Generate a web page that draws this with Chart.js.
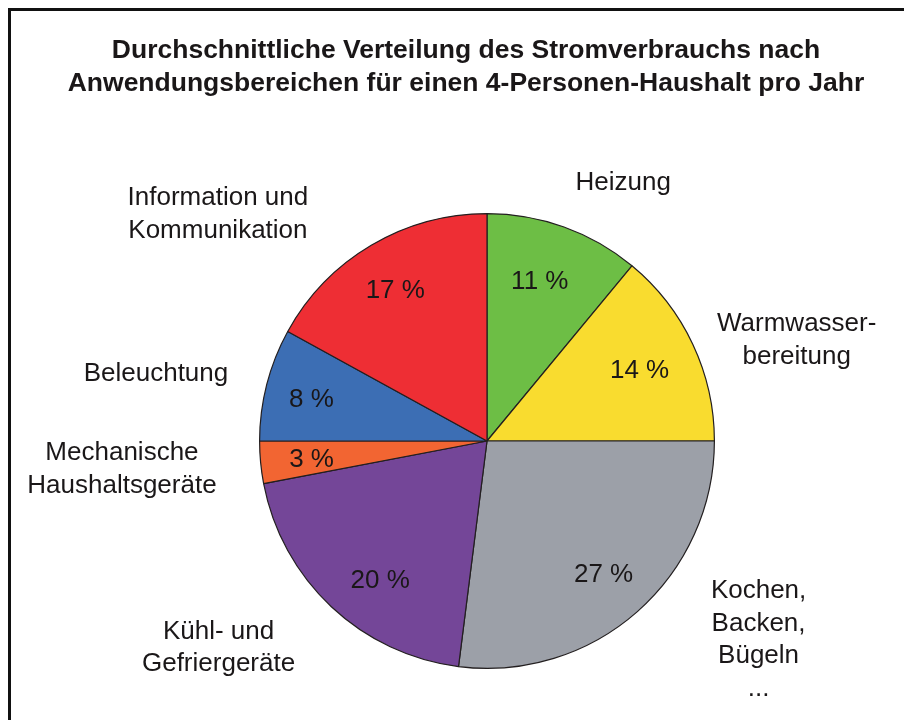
<!DOCTYPE html>
<html>
<head>
<meta charset="utf-8">
<title>Stromverbrauch 4-Personen-Haushalt</title>
<script src="https://cdn.jsdelivr.net/npm/chart.js@4.4.1/dist/chart.umd.min.js"></script>
<style>
  body { margin: 0; background: #fff; }
  #wrap { position: relative; width: 904px; height: 720px; overflow: hidden; }
  #frame { position: absolute; left: 8px; top: 8px; width: 1000px; height: 1000px;
           border: 3px solid #111; box-sizing: border-box; }
  #pie { position: absolute; left: 0; top: 0; }
</style>
</head>
<body>
<div id="wrap">
  <div id="frame"></div>
  <canvas id="pie" width="904" height="720"></canvas>
</div>
<script>
// data (clockwise from 12 o'clock)
const titleLines = [
  "Durchschnittliche Verteilung des Stromverbrauchs nach",
  "Anwendungsbereichen für einen 4-Personen-Haushalt pro Jahr"
];
const categories = [
  ["Heizung"],
  ["Warmwasser-", "bereitung"],
  ["Kochen,", "Backen,", "Bügeln", "..."],
  ["Kühl- und", "Gefriergeräte"],
  ["Mechanische", "Haushaltsgeräte"],
  ["Beleuchtung"],
  ["Information und", "Kommunikation"]
];
const shares = [11, 14, 27, 20, 3, 8, 17];
const sliceColors = ["#6dbe45", "#f9dc2f", "#9ca0a8", "#744698", "#f26532", "#3c6eb4", "#ee2e34"];

// text placement: angle (deg, clockwise from top) and distance in radii
const pctSpots = [
  [18.3, 0.739], [65.4, 0.738], [138.9, 0.78], [217.4, 0.773],
  [263.8, 0.776], [283.1, 0.793], [328.5, 0.772]
];
const labelSpots = [
  [27.8, 1.284], [72.0, 1.432], [126.2, 1.48], [232.4, 1.49],
  [265.6, 1.61], [281.4, 1.485], [310.1, 1.547]
];

const FONT = '"Liberation Sans", Arial, Helvetica, sans-serif';
const INK = "#1a1718";

function polar(p, spot) {
  const a = (spot[0] - 90) * Math.PI / 180;
  return [p.x + Math.cos(a) * p.outerRadius * spot[1], p.y + Math.sin(a) * p.outerRadius * spot[1]];
}

const textLayer = {
  id: "textLayer",
  afterDatasetsDraw(chart) {
    const ctx = chart.ctx;
    const arcs = chart.getDatasetMeta(0).data;
    ctx.save();
    ctx.fillStyle = INK;
    ctx.textAlign = "center";

    // title
    ctx.font = "bold 26.5px " + FONT;
    ctx.textBaseline = "alphabetic";
    titleLines.forEach((t, i) => ctx.fillText(t, 466, 58 + i * 33));

    ctx.textBaseline = "middle";
    ctx.font = "26px " + FONT;
    arcs.forEach((arc, i) => {
      const p = arc.getProps(["x", "y", "outerRadius"], true);
      // percentage inside the slice
      const [px, py] = polar(p, pctSpots[i]);
      ctx.fillText(shares[i] + " %", px, py);

      // category name outside
      const [cx, cy] = polar(p, labelSpots[i]);
      const lines = categories[i];
      const lh = 32.5;
      lines.forEach((ln, k) => {
        ctx.fillText(ln, cx, cy + (k - (lines.length - 1) / 2) * lh);
      });
    });
    ctx.restore();
  }
};

new Chart(document.getElementById("pie"), {
  type: "pie",
  data: {
    labels: categories,
    datasets: [{
      data: shares,
      backgroundColor: sliceColors,
      borderColor: "#231f20",
      borderWidth: 1.2
    }]
  },
  options: {
    responsive: false,
    animation: false,
    layout: { padding: { left: 259, top: 213, right: 189, bottom: 51 } },
    plugins: {
      legend: { display: false },
      tooltip: { enabled: false }
    }
  },
  plugins: [textLayer]
});
</script>
</body>
</html>
